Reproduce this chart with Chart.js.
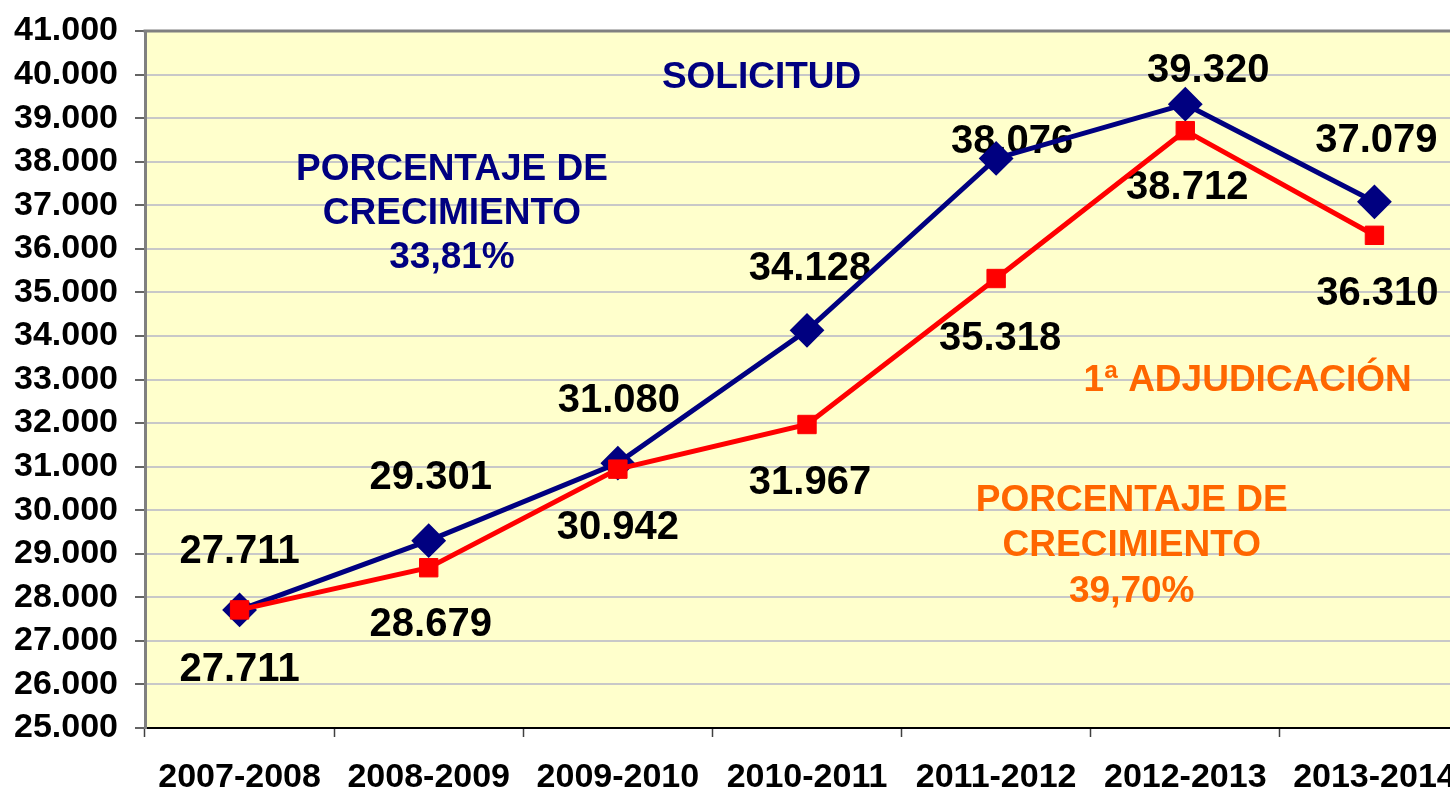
<!DOCTYPE html>
<html>
<head>
<meta charset="utf-8">
<script src="https://cdn.jsdelivr.net/npm/chart.js@4/dist/chart.umd.min.js"></script>
<style>
  html, body { margin: 0; padding: 0; background: #ffffff; overflow: hidden; }
  #wrap { width: 1480px; height: 791px; }
</style>
</head>
<body>
<div id="wrap"><canvas id="c" width="1480" height="791"></canvas></div>
<script>
// ---- data ----
const categories = ['2007-2008', '2008-2009', '2009-2010', '2010-2011', '2011-2012', '2012-2013', '2013-2014'];
const solicitud = [27711, 29301, 31080, 34128, 38076, 39320, 37079];
const adjudicacion = [27711, 28679, 30942, 31967, 35318, 38712, 36310];
const yMin = 25000;
const yMax = 41000;
const yStep = 1000;

// label placement (pixel offsets from each point, to the centre of the digits)
const solicitudLabelOffsets = [[0, -61], [2, -66], [1, -65], [3, -65], [16, -20], [23, -37], [2, -64]];
const adjudicacionLabelOffsets = [[0, 57], [2, 54], [0, 56], [3, 55], [4, 57], [2, 54], [3, 55]];

// free text annotations (placed in data coordinates: category index, value)
const annotations = [
  { text: 'SOLICITUD', color: '#000080', idx: 2.76, value: 39990 },
  { text: 'PORCENTAJE DE', color: '#000080', idx: 1.123, value: 37878 },
  { text: 'CRECIMIENTO', color: '#000080', idx: 1.123, value: 36868 },
  { text: '33,81%', color: '#000080', idx: 1.123, value: 35858 },
  { text: '1ª ADJUDICACIÓN', color: '#FF6600', idx: 5.33, value: 33034 },
  { text: 'PORCENTAJE DE', color: '#FF6600', idx: 4.717, value: 30279 },
  { text: 'CRECIMIENTO', color: '#FF6600', idx: 4.717, value: 29246 },
  { text: '39,70%', color: '#FF6600', idx: 4.717, value: 28190 }
];

const FONT = "'Liberation Sans', Arial, sans-serif";
const fmt = v => String(Math.round(v)).replace(/\B(?=(\d{3})+(?!\d))/g, '.');
const CAP = 0.358; // half cap height (em)

const bgPlugin = {
  id: 'bgPlugin',
  beforeDraw(chart) {
    const { ctx, chartArea: a } = chart;
    ctx.save();
    ctx.fillStyle = '#FFFFCC';
    ctx.fillRect(a.left, a.top, a.right - a.left, a.bottom - a.top);
    ctx.restore();
  },
  beforeDatasetsDraw(chart) {
    const { ctx, chartArea: a, scales } = chart;
    ctx.save();
    // top border
    ctx.strokeStyle = '#808080';
    ctx.lineWidth = 3;
    ctx.beginPath();
    ctx.moveTo(a.left - 1.5, a.top);
    ctx.lineTo(a.right, a.top);
    ctx.stroke();

    // annotations
    ctx.textAlign = 'center';
    ctx.textBaseline = 'alphabetic';
    const annSize = 37;
    ctx.font = 'bold ' + annSize + 'px ' + FONT;
    annotations.forEach(an => {
      const x = scales.x.getPixelForValue(an.idx);
      const y = scales.y.getPixelForValue(an.value);
      ctx.fillStyle = an.color;
      ctx.fillText(an.text, x, y + CAP * annSize);
    });

    // data labels
    const lblSize = 40;
    ctx.font = 'bold ' + lblSize + 'px ' + FONT;
    ctx.fillStyle = '#000000';
    const sets = [[0, solicitudLabelOffsets], [1, adjudicacionLabelOffsets]];
    sets.forEach(([di, offs]) => {
      const meta = chart.getDatasetMeta(di);
      const vals = chart.data.datasets[di].data;
      meta.data.forEach((pt, i) => {
        ctx.fillText(fmt(vals[i]), pt.x + offs[i][0], pt.y + offs[i][1] + CAP * lblSize);
      });
    });
    ctx.restore();
  }
};

new Chart(document.getElementById('c'), {
  type: 'line',
  data: {
    labels: categories,
    datasets: [
      {
        label: 'Solicitud',
        data: solicitud,
        borderColor: '#000080',
        backgroundColor: '#000080',
        borderWidth: 5,
        pointStyle: 'rectRot',
        pointRadius: 16,
        pointBorderWidth: 2,
        pointBorderColor: '#000080',
        pointBackgroundColor: '#000080',
        tension: 0,
        order: 2
      },
      {
        label: '1ª Adjudicación',
        data: adjudicacion,
        borderColor: '#FF0000',
        backgroundColor: '#FF0000',
        borderWidth: 5,
        pointStyle: 'rect',
        pointRadius: 13,
        pointBorderWidth: 1,
        pointBorderColor: '#FF0000',
        pointBackgroundColor: '#FF0000',
        tension: 0,
        order: 1
      }
    ]
  },
  options: {
    responsive: false,
    animation: false,
    devicePixelRatio: 1,
    layout: { autoPadding: false, padding: { top: 31, right: 11, bottom: 0, left: 0 } },
    plugins: {
      legend: { display: false },
      tooltip: { enabled: false },
      title: { display: false }
    },
    scales: {
      x: {
        type: 'category',
        offset: true,
        grid: {
          offset: true,
          drawOnChartArea: false,
          drawTicks: true,
          tickLength: 9,
          tickColor: '#404040',
          tickWidth: 1.5,
          color: '#404040'
        },
        border: { display: true, color: '#000000', width: 2 },
        ticks: {
          autoSkip: false,
          maxRotation: 0,
          minRotation: 0,
          padding: 20,
          color: '#000000',
          font: { family: FONT, size: 34, weight: 'bold' }
        },
        afterFit(s) { s.height = 63; s.paddingLeft = 0; s.paddingRight = 0; }
      },
      y: {
        min: yMin,
        max: yMax,
        ticks: {
          stepSize: yStep,
          autoSkip: false,
          padding: 17,
          color: '#000000',
          font: { family: FONT, size: 34, weight: 'bold' },
          callback: v => fmt(v)
        },
        grid: {
          color: '#c8c8c8',
          lineWidth: 2,
          drawTicks: true,
          tickLength: 10,
          tickColor: '#303030',
          tickWidth: 1.5
        },
        border: { display: true, color: '#808080', width: 3 },
        afterFit(s) { s.width = 145; s.paddingTop = 0; s.paddingBottom = 0; }
      }
    }
  },
  plugins: [bgPlugin]
});
</script>
</body>
</html>
